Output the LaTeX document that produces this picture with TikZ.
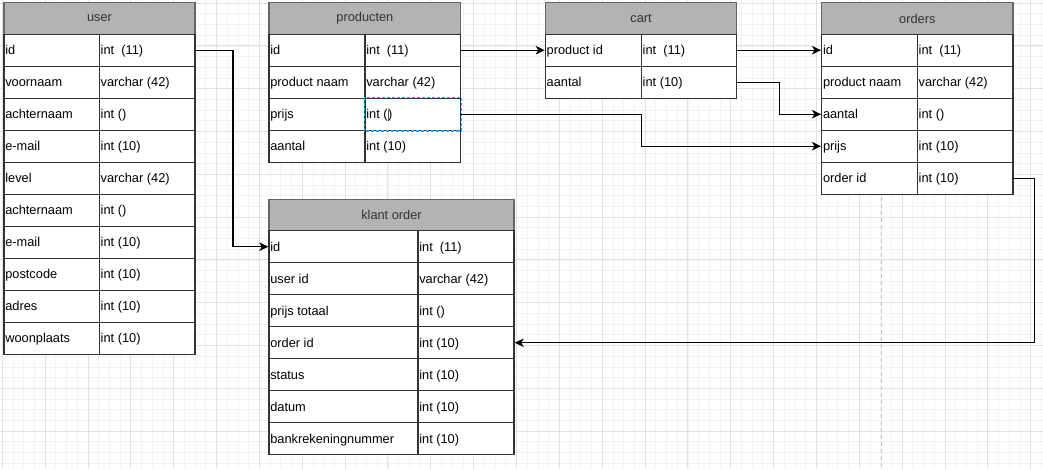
\documentclass[tikz,border=0pt]{standalone}
\usepackage{fontspec}
\setmainfont{Liberation Sans}
\usetikzlibrary{arrows.meta}
\definecolor{hdrfill}{HTML}{B3B3B3}
\definecolor{hdrtext}{HTML}{333333}
\definecolor{gridminor}{HTML}{F3F3F3}
\definecolor{gridmajor}{HTML}{E2E2E2}
\definecolor{selblue}{HTML}{2AAAE8}
\definecolor{cellline}{HTML}{333333}
\newcommand\cursorbar{\textcolor{black!65}{\rule[-2pt]{0.6pt}{11pt}}}
\tikzset{
  tfont/.style={font=\fontsize{12.8}{15}\selectfont},
  hdr/.style={tfont, draw=black!60, fill=hdrfill, line width=1.4pt, rectangle, inner sep=0pt, anchor=north west, text=hdrtext},
  cell/.style={draw=cellline, fill=white, line width=1.4pt, rectangle, inner sep=0pt, anchor=north west, minimum height=32pt},
  celltext/.style={tfont, anchor=base west, inner sep=0pt, text=black},
  conn/.style={draw=black, line width=1.3pt, -{Stealth[length=9pt,width=8.5pt,inset=2.5pt]}},
  gminor/.style={draw=gridminor, line width=0.6pt},
  gmajor/.style={draw=gridmajor, line width=0.8pt},
  lifeline/.style={draw=black!22, line width=1.5pt, dash pattern=on 4pt off 3pt},
  selbox/.style={draw=selblue, line width=1.4pt, dash pattern=on 3pt off 2pt},
}
% #1 name, #2 x left, #3 x divider, #4 x right, #5 y top, #6 title, #7 rows
\newcommand\ertable[7]{%
  \node[hdr, minimum width={(#4-#2)*1pt}, minimum height=31.5pt] (#1-h) at (#2,#5) {#6};
  \foreach \k/\v [count=\i] in {#7} {
    \pgfmathsetmacro\yy{#5+31.5+(\i-1)*32}
    \node[cell, minimum width={(#3-#2)*1pt}] (#1-\i-k) at (#2,\yy) {};
    \node[cell, minimum width={(#4-#3)*1pt}] (#1-\i-v) at (#3,\yy) {};
    \node[celltext] at ([xshift=1.8pt,yshift=-4.4pt]#1-\i-k.west) {\k};
    \node[celltext] at ([xshift=1.8pt,yshift=-4.4pt]#1-\i-v.west) {\v};
  }
}
\begin{document}
\begin{tikzpicture}[x=1pt,y=-1pt]
\useasboundingbox (0,0) rectangle (1043,469);
\fill[white] (0,0) rectangle (1043,469);
% grid
\foreach \i in {-1,...,98} \draw[gminor] ({2.2+\i*10.7125},0) -- ({2.2+\i*10.7125},469);
\foreach \i in {-1,...,44} \draw[gminor] (0,{3+\i*10.7}) -- (1043,{3+\i*10.7});
\foreach \i in {0,...,24} \draw[gmajor] ({2.2+\i*42.85},0) -- ({2.2+\i*42.85},469);
\foreach \i in {0,...,11} \draw[gmajor] (0,{3+\i*42.8}) -- (1043,{3+\i*42.8});
% lifeline
\draw[lifeline] (881.7,197) -- (881.7,469);
% tables
\ertable{user}{3.3}{98.7}{194.3}{2}{user}{id/int\ \ (11), voornaam/varchar (42), achternaam/int (), e-mail/int (10), level/varchar (42), achternaam/int (), e-mail/int (10), postcode/int (10), adres/int (10), woonplaats/int (10)}
\ertable{prod}{268.3}{364.3}{460}{2}{producten}{id/int\ \ (11), product naam/varchar (42), prijs/{int (\cursorbar)}, aantal/int (10)}
\ertable{cart}{544.7}{640.7}{736}{2}{cart}{product id/int\ \ (11), aantal/int (10)}
\ertable{orders}{821}{916.7}{1012.3}{2}{orders}{id/int\ \ (11), product naam/varchar (42), aantal/int (), prijs/int (10), order id/int (10)}
\ertable{klant}{268.3}{417.3}{513.3}{198.5}{klant order}{id/int\ \ (11), user id/varchar (42), prijs totaal/int (), order id/int (10), status/int (10), datum/int (10), bankrekeningnummer/int (10)}
% selection
\draw[selbox] (prod-3-v.north west) rectangle (prod-3-v.south east);
% connectors
\draw[conn] (user-1-v.east) -- ++(37.4,0) |- (klant-1-k.west);
\draw[conn] (prod-1-v.east) -- (cart-1-k.west);
\draw[conn] (prod-3-v.east) -- ++(180.3,0) |- (orders-4-k.west);
\draw[conn] (cart-1-v.east) -- (orders-1-k.west);
\draw[conn] (cart-2-v.east) -- ++(42,0) |- (orders-3-k.west);
\draw[conn] (orders-5-v.east) -- ++(21,0) |- (klant-4-v.east);
\end{tikzpicture}
\end{document}
